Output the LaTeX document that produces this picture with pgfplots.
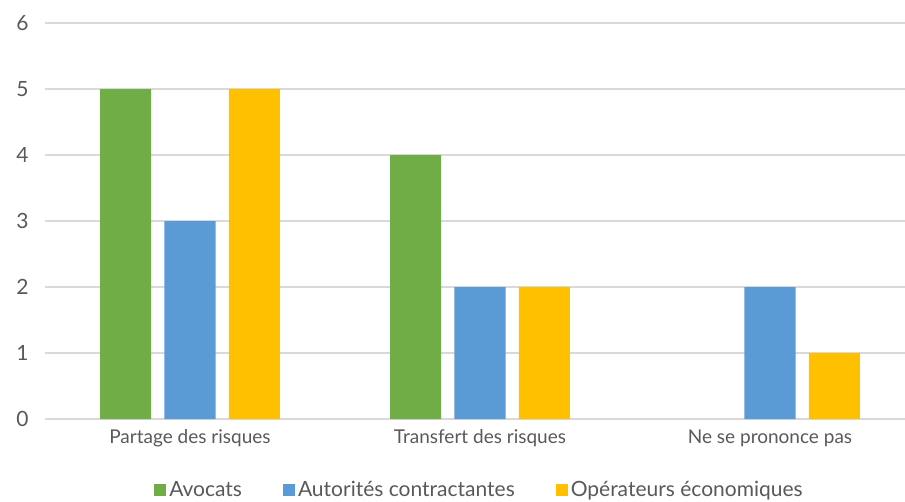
\documentclass[border=0pt]{standalone}
\usepackage{fontspec}
\setmainfont{Lato}
\usepackage{pgfplots}
\pgfplotsset{compat=1.18}

\definecolor{cgreen}{RGB}{112,173,71}
\definecolor{cblue}{RGB}{91,155,213}
\definecolor{cyellow}{RGB}{255,192,0}
\definecolor{cgrid}{RGB}{217,217,217}
\definecolor{ctext}{RGB}{89,89,89}

\begin{document}
\begin{tikzpicture}
\useasboundingbox (-45pt,-82pt) rectangle (860pt,419pt);
\begin{axis}[
  scale only axis,
  width=870pt,
  height=396pt,
  xmin=-0.5, xmax=2.5,
  ymin=0, ymax=6,
  xtick={0,1,2},
  xticklabels={Partage des risques,Transfert des risques,Ne se prononce pas},
  ytick={0,1,2,3,4,5,6},
  /pgf/number format/assume math mode=true,
  major tick length=0pt,
  axis line style={draw=none},
  ymajorgrids=true,
  grid style={cgrid,line width=1.6pt},
  tick label style={text=ctext},
  xticklabel style={font=\fontsize{19}{22}\selectfont,yshift=-7pt},
  yticklabel style={font=\fontsize{21}{25}\selectfont,xshift=-13pt},
  legend columns=3,
  legend style={at={(0.5,-0.179)},anchor=center,draw=none,fill=none,
    font=\fontsize{21}{25}\selectfont,text=ctext,
    nodes={inner xsep=3pt},
    /tikz/every even column/.append style={column sep=38pt}},
  legend image code/.code={\fill[#1] (0pt,-6pt) rectangle (12pt,6pt);},
]
\addplot[ybar,bar width=0.176,bar shift=-0.222,fill=cgreen,draw=none] coordinates {(0,5) (1,4)};
\addplot[ybar,bar width=0.176,bar shift=0,fill=cblue,draw=none] coordinates {(0,3) (1,2) (2,2)};
\addplot[ybar,bar width=0.176,bar shift=0.222,fill=cyellow,draw=none] coordinates {(0,5) (1,2) (2,1)};
\legend{Avocats,Autorités contractantes,Opérateurs économiques}
\end{axis}
\end{tikzpicture}
\end{document}
